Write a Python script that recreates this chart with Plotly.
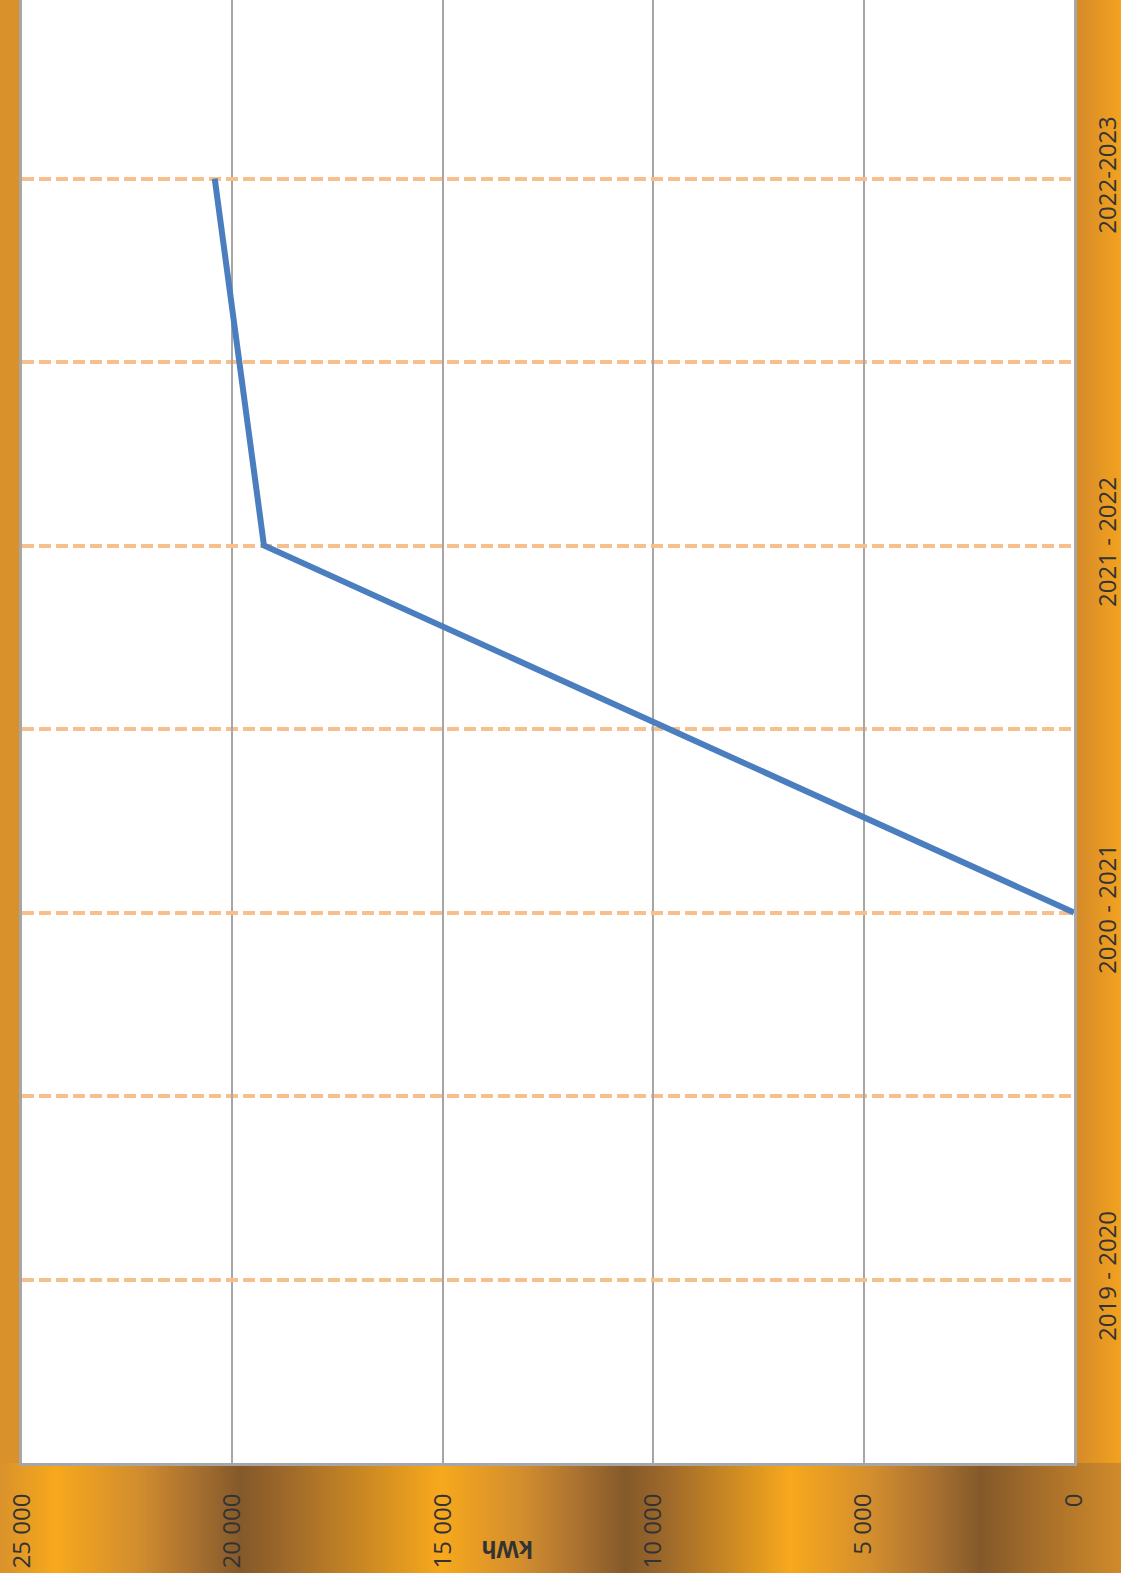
import base64, struct, zlib
import plotly.graph_objects as go

# ---- data ----
categories = ["2019 - 2020", "2020 - 2021", "2021 - 2022", "2022-2023"]
values_kwh = [None, 0, 19250, 20420]
value_ticks = [0, 5000, 10000, 15000, 20000, 25000]
value_tick_labels = ["0", "5 000", "10 000", "15 000", "20 000", "25 000"]
axis_title = "kWh"

# ---- figure geometry ----
W, H = 1121, 1573
ML, MR, MT, MB = 22, 47, 0, 110
PW, PH = W - ML - MR, H - MT - MB


def hex2rgb(h):
    h = h.lstrip("#")
    return tuple(int(h[i:i + 2], 16) for i in (0, 2, 4))


def gradient_row(width, stops):
    row = []
    for x in range(width):
        for i in range(len(stops) - 1):
            x0, c0 = stops[i]
            x1, c1 = stops[i + 1]
            if x0 <= x <= x1:
                t = 0 if x1 == x0 else (x - x0) / (x1 - x0)
                a, b = hex2rgb(c0), hex2rgb(c1)
                row.append(tuple(round(a[k] + (b[k] - a[k]) * t) for k in range(3)))
                break
    return row


def png_data_uri(row):
    w = len(row)
    raw = b"\x00" + bytes(v for px in row for v in px)
    def chunk(tag, data):
        c = struct.pack(">I", len(data)) + tag + data
        return c + struct.pack(">I", zlib.crc32(tag + data) & 0xFFFFFFFF)
    png = b"\x89PNG\r\n\x1a\n"
    png += chunk(b"IHDR", struct.pack(">IIBBBBB", w, 1, 8, 2, 0, 0, 0))
    png += chunk(b"IDAT", zlib.compress(raw, 9))
    png += chunk(b"IEND", b"")
    return "data:image/png;base64," + base64.b64encode(png).decode()


bright, dark, base = "#F7A81C", "#84592A", "#D9922B"
bottom_stops = [(0, base), (55, bright), (135, "#D38E2E"), (195, "#A87030"), (240, dark),
                (290, "#A06A2A"), (440, bright), (520, "#D38E2E"), (580, "#A87030"),
                (625, dark), (670, "#A06A2A"), (790, bright), (870, "#D38E2E"),
                (935, "#A87030"), (980, dark), (1030, "#A06A2A"), (W - 1, "#D08A2A")]
bottom_img = png_data_uri(gradient_row(W, bottom_stops))
right_img = png_data_uri(gradient_row(MR, [(0, "#D4892A"), (MR - 1, "#F2A21F")]))

fig = go.Figure()
fig.add_trace(go.Scatter(
    x=values_kwh, y=categories, mode="lines", connectgaps=False,
    line=dict(color="#4A7EBF", width=6), hoverinfo="skip", showlegend=False,
))

dash_color = "#F7BF8C"
dash_style = "12px,5px"
shapes = []
for i in range(len(categories) - 1):
    shapes.append(dict(type="line", xref="paper", yref="y", x0=0, x1=1,
                       y0=i + 0.5, y1=i + 0.5, layer="below",
                       line=dict(color=dash_color, width=4, dash=dash_style)))

tick_font = dict(family="Open Sans", size=24, color="#333333")

fig.update_layout(
    width=W, height=H,
    margin=dict(l=ML, r=MR, t=MT, b=MB, pad=0, autoexpand=False),
    paper_bgcolor=base, plot_bgcolor="white",
    showlegend=False,
    shapes=shapes,
    xaxis=dict(
        range=[25000, 0], tickvals=value_ticks, ticktext=value_tick_labels,
        tickangle=-90, tickfont=tick_font, ticks="", ticklabelstandoff=18,
        showgrid=True, gridcolor="#A6A6A6", gridwidth=2, automargin=False,
        showline=True, linecolor="#A6A6A6", linewidth=3, zeroline=False,
    ),
    yaxis=dict(
        type="category", categoryorder="array", categoryarray=categories,
        range=[-0.5, 3.4865], side="right", tickangle=-90, tickfont=tick_font,
        ticks="", ticklabelstandoff=10, automargin=False,
        showgrid=True, gridcolor=dash_color, gridwidth=4, griddash=dash_style,
        showline=True, mirror=True, linecolor="#A6A6A6", linewidth=3, zeroline=False,
    ),
    images=[
        dict(source=bottom_img, xref="paper", yref="paper", x=-ML / PW, y=0,
             sizex=W / PW, sizey=MB / PH, xanchor="left", yanchor="top",
             sizing="stretch", layer="below"),
        dict(source=right_img, xref="paper", yref="paper", x=1, y=1,
             sizex=MR / PW, sizey=1, xanchor="left", yanchor="top",
             sizing="stretch", layer="below"),
    ],
    annotations=[dict(
        text="<b>" + axis_title + "</b>", xref="paper", yref="paper",
        x=(507 - ML) / PW, y=-(1550 - PH) / PH, textangle=180, showarrow=False,
        xanchor="center", yanchor="middle",
        font=dict(family="Open Sans", size=23, color="#333333"),
    )],
)

fig.write_html(
    "out.html",
    config={"displayModeBar": False},
    post_script="document.body.style.margin='0';document.body.style.overflow='hidden';",
)
